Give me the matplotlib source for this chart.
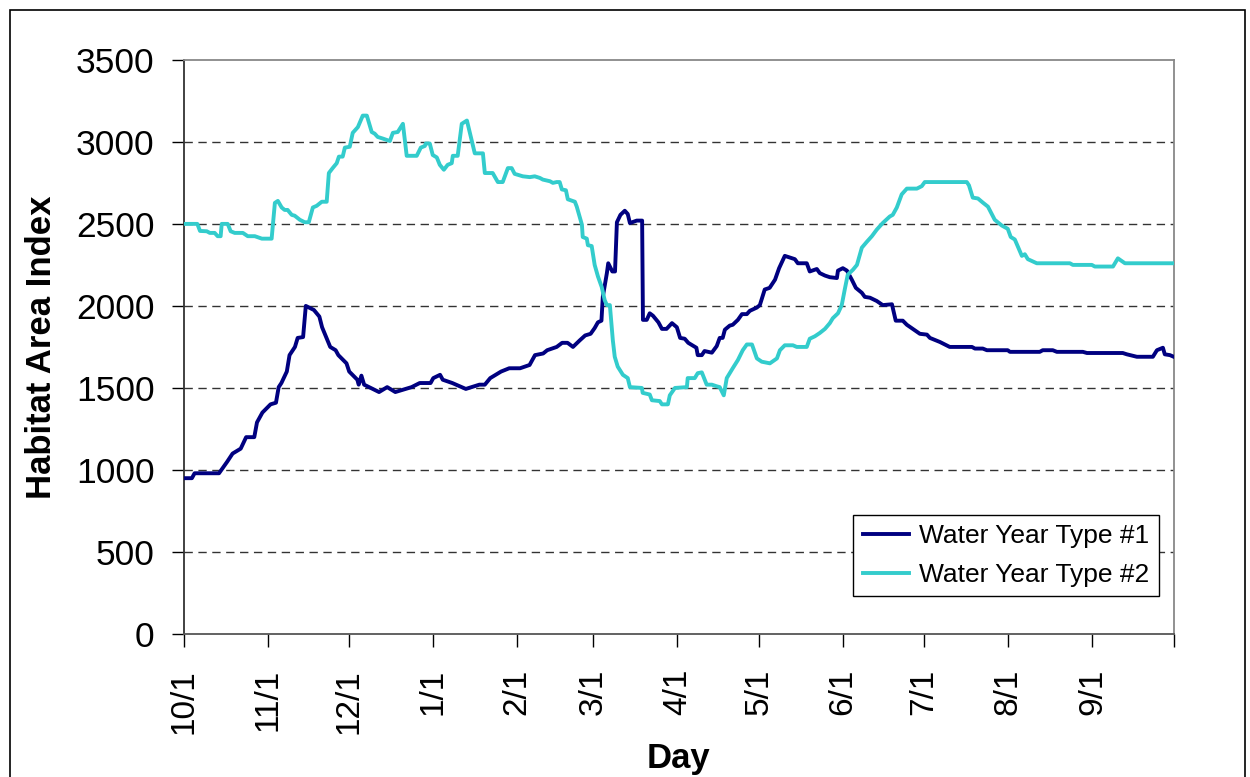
import matplotlib
matplotlib.use("Agg")
import matplotlib.pyplot as plt
from matplotlib.patches import Rectangle

plt.rcParams['font.family'] = ['Liberation Sans', 'DejaVu Sans']

# month ticks (days since 10/1)
month_start = [0, 31, 61, 92, 123, 151, 182, 212, 243, 273, 304, 335, 365]
month_labels = ['10/1', '11/1', '12/1', '1/1', '2/1', '3/1', '4/1', '5/1', '6/1',
                '7/1', '8/1', '9/1', '']

# Water Year Type #1
t1_day = [0, 3, 4, 13, 16, 18, 21, 23, 26, 27, 29, 32, 34, 35, 36, 38, 39, 41, 42, 44,
          45, 48, 50, 51, 54, 56, 57, 60, 61, 64, 64.5, 65.5, 66.5, 72, 75, 78, 84, 87, 91, 92,
          94.5, 95.5, 99, 104, 109, 111, 113, 115, 117, 120, 124, 127.5, 129.5, 132.5, 134,
          137.5, 139.5, 141.5, 143.5, 146, 148, 150, 151.5, 152.7, 154, 154.5, 156, 156.5,
          158, 159, 159.7, 161, 162.6, 163.7, 164.5, 167, 169, 169.3, 170.7, 171.8, 173, 175,
          176.3, 178, 180, 181.8, 183, 184.7, 186, 189, 189.5, 191, 192, 194.7, 196.5, 197.6,
          198.7, 199.5, 201.3, 202.4, 204.3, 205.8, 207.6, 208.7, 211.3, 212.4, 214.2, 216,
          218, 219.5, 221.6, 223.5, 225.3, 226.4, 229.7, 230.8, 233.4, 234.5, 236.4, 238.2,
          240.8, 241.2, 243, 244.5, 246.3, 247.8, 250, 251.1, 253, 255.5, 257.7, 261.1, 262.5,
          265.1, 266.6, 268.8, 271.4, 274, 275.1, 278.8, 282.4, 290.6, 291.7, 294.6, 296.1,
          303.8, 304.6, 315.6, 316.7, 320.4, 321.9, 331.5, 333, 346.2, 347.7, 351.4, 357.3,
          358.8, 361, 361.7, 363.6, 365]
t1_val = [950, 950, 980, 980, 1050, 1100, 1130, 1200, 1200, 1290, 1350, 1400, 1410, 1505,
          1530, 1600, 1700, 1750, 1805, 1810, 2000, 1975, 1935, 1870, 1750, 1730, 1700, 1650,
          1600, 1550, 1520, 1575, 1520, 1475, 1505, 1475, 1505, 1530, 1530, 1560, 1580, 1550,
          1530, 1494, 1520, 1520, 1560, 1580, 1600, 1620, 1620, 1640, 1700, 1710, 1730, 1750,
          1775, 1775, 1750, 1790, 1820, 1830, 1865, 1900, 1910, 2055, 2200, 2260, 2210, 2210,
          2510, 2555, 2580, 2560, 2505, 2520, 2520, 1915, 1915, 1955, 1940, 1900, 1860, 1860,
          1895, 1870, 1805, 1800, 1775, 1745, 1700, 1700, 1725, 1715, 1755, 1805, 1805, 1855,
          1880, 1885, 1915, 1950, 1950, 1970, 1990, 2005, 2100, 2110, 2160, 2230, 2305, 2295,
          2285, 2260, 2260, 2210, 2225, 2200, 2185, 2175, 2170, 2215, 2230, 2215, 2160, 2110,
          2080, 2055, 2050, 2030, 2005, 2010, 1910, 1910, 1885, 1860, 1830, 1825, 1805, 1780,
          1750, 1750, 1740, 1740, 1730, 1730, 1720, 1720, 1730, 1730, 1720, 1720, 1713, 1713,
          1705, 1690, 1690, 1730, 1745, 1705, 1700, 1690]

# Water Year Type #2
t2_day = [0, 5, 6, 8.5, 9.6, 11.4, 12.5, 13.6, 14, 16.2, 17.3, 18.8, 21.8, 23.6, 26.2, 28.8,
          32.4, 33.6, 34.7, 36.1, 37.2, 38.3, 39.8, 40.9, 42.8, 44.6, 46.1, 47.6, 49, 50.9,
          52.7, 53.5, 54.9, 56.4, 57.2, 58.6, 59.4, 61.2, 62.3, 64.2, 66, 67.5, 69.3, 70.4,
          71.5, 73.4, 76, 77.1, 78.9, 80.8, 82.2, 85.9, 87.4, 88.9, 89.2, 90.7, 91.8, 93.3,
          94.4, 95.9, 97.3, 98.8, 99.2, 101, 102.5, 104.4, 105.5, 107.3, 110.3, 111, 113.9,
          115.8, 117.6, 119.5, 120.9, 122, 125, 127.6, 129.4, 131.3, 132.4, 135, 136.1, 137.5,
          138.6, 139.4, 140.9, 141.6, 144.2, 144.9, 146.8, 147.1, 148.6, 149, 150.4, 151.5,
          152.7, 154.1, 155.2, 156, 157.1, 158.2, 158.9, 160, 161.9, 163.7, 164.5, 168.9,
          169.2, 171.8, 172.6, 175.5, 176.3, 178.5, 179.2, 181.1, 185.5, 185.8, 188.4, 189.5,
          191, 192.8, 194.7, 196.5, 197.6, 199.1, 200.2, 202.4, 204.3, 206.1, 207.6, 209.5,
          211.3, 213.1, 216.1, 218.7, 219.8, 221.6, 224.6, 226, 229.7, 230.8, 232.7, 234.5,
          236.4, 238.2, 239.3, 241.2, 242.6, 243.7, 244.8, 246.7, 248.2, 250, 251.8, 253.7,
          255.5, 257.7, 260.3, 261.4, 262.9, 264.7, 266.6, 270.3, 272.1, 273.2, 288.7, 289.5,
          290.9, 292.8, 294.6, 296.5, 299, 301.6, 303.8, 304.9, 306.4, 309, 310.1, 311.2,
          314.5, 326.7, 327.8, 334.8, 335.9, 342.6, 344.4, 347, 365]
t2_val = [2500, 2500, 2457, 2455, 2445, 2445, 2425, 2425, 2500, 2500, 2455, 2445, 2445, 2425,
          2425, 2410, 2410, 2628, 2640, 2600, 2585, 2585, 2555, 2550, 2525, 2510, 2510, 2600,
          2610, 2635, 2635, 2810, 2840, 2870, 2910, 2910, 2965, 2970, 3055, 3090, 3160, 3160,
          3060, 3050, 3030, 3020, 3005, 3055, 3060, 3110, 2915, 2915, 2965, 2975, 2990, 2990,
          2920, 2905, 2860, 2830, 2860, 2870, 2915, 2915, 3110, 3130, 3055, 2930, 2930, 2810,
          2810, 2755, 2755, 2840, 2840, 2805, 2790, 2785, 2790, 2780, 2770, 2760, 2750, 2755,
          2755, 2710, 2705, 2650, 2635, 2605, 2495, 2420, 2410, 2370, 2365, 2250, 2180, 2115,
          2035, 2005, 2005, 1790, 1690, 1630, 1580, 1560, 1505, 1500, 1470, 1460, 1425, 1420,
          1400, 1400, 1455, 1500, 1505, 1560, 1560, 1590, 1595, 1520, 1520, 1510, 1505, 1455,
          1560, 1620, 1670, 1730, 1765, 1765, 1680, 1660, 1650, 1680, 1730, 1760, 1760, 1750,
          1750, 1800, 1815, 1835, 1860, 1895, 1925, 1955, 2005, 2100, 2190, 2220, 2250, 2355,
          2390, 2425, 2465, 2505, 2545, 2555, 2600, 2680, 2715, 2715, 2730, 2755, 2755, 2735,
          2660, 2655, 2630, 2605, 2525, 2490, 2470, 2420, 2405, 2305, 2315, 2285, 2260, 2260,
          2250, 2250, 2240, 2240, 2290, 2260, 2260]

fig = plt.figure(figsize=(12.5, 7.77), dpi=100)
ax = fig.add_axes([0.147, 0.184, 0.792, 0.739])

# frame around the whole chart
fig.patches.append(Rectangle((0.008, -0.05), 0.988, 1.037, transform=fig.transFigure,
                             fill=False, edgecolor='black', linewidth=1.2, zorder=0))

ax.plot(t1_day, t1_val, color='#000080', linewidth=2.8, label='Water Year Type #1', zorder=3)
ax.plot(t2_day, t2_val, color='#33CCCC', linewidth=2.8, label='Water Year Type #2', zorder=3)

ax.set_xlim(0, 365)
ax.set_ylim(0, 3500)
ax.set_yticks(range(0, 3501, 500))
ax.set_xticks(month_start)
ax.set_xticklabels(month_labels, rotation=90)

for y in range(500, 3001, 500):
    ax.axhline(y, color='#333333', linewidth=1.0, linestyle=(0, (6, 4)), zorder=1)

ax.spines['top'].set_color('#888888')
ax.spines['right'].set_color('#888888')
ax.spines['bottom'].set_color('#555555')
ax.spines['left'].set_color('#333333')
for s in ax.spines.values():
    s.set_linewidth(1.3)

ax.tick_params(axis='y', direction='out', length=9, width=1, labelsize=25.5, pad=12)
ax.tick_params(axis='x', direction='out', length=9, width=1, labelsize=24, pad=16)

ax.set_xlabel('Day', fontsize=25, fontweight='bold', labelpad=6)
ax.set_ylabel('Habitat Area Index', fontsize=25, fontweight='bold', labelpad=13)

leg = ax.legend(loc='lower right', bbox_to_anchor=(0.985, 0.066), fontsize=19, frameon=True,
                fancybox=False, edgecolor='black', framealpha=1, handlelength=1.75,
                borderpad=0.35, labelspacing=0.55, handletextpad=0.4, borderaxespad=0)
leg.get_frame().set_linewidth(1.0)

fig.savefig('out.png', dpi=100)
